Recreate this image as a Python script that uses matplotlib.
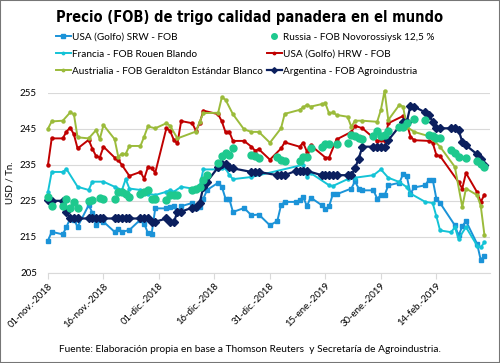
import numpy as np
import pandas as pd
import matplotlib
matplotlib.use('Agg')
import matplotlib.pyplot as plt
from matplotlib.lines import Line2D
from matplotlib.patches import Rectangle

# ---- data (USD / Tn) ----
srw_dates = ['2018-11-01','2018-11-02','2018-11-05','2018-11-06','2018-11-07','2018-11-08','2018-11-09',
             '2018-11-12','2018-11-13','2018-11-14','2018-11-15','2018-11-16','2018-11-19','2018-11-20',
             '2018-11-21','2018-11-23','2018-11-26','2018-11-27','2018-11-28','2018-11-29','2018-11-30',
             '2018-12-03','2018-12-04','2018-12-05','2018-12-06','2018-12-07','2018-12-10','2018-12-11',
             '2018-12-12','2018-12-13','2018-12-14','2018-12-17','2018-12-18','2018-12-19','2018-12-20',
             '2018-12-21','2018-12-24','2018-12-26','2018-12-28','2018-12-31','2019-01-02','2019-01-03',
             '2019-01-04','2019-01-07','2019-01-08','2019-01-09','2019-01-10','2019-01-11','2019-01-14',
             '2019-01-15','2019-01-16','2019-01-17','2019-01-18','2019-01-22','2019-01-23','2019-01-24',
             '2019-01-25','2019-01-28','2019-01-29','2019-01-30','2019-01-31','2019-02-01','2019-02-04',
             '2019-02-05','2019-02-06','2019-02-07','2019-02-08','2019-02-11','2019-02-12','2019-02-13',
             '2019-02-14','2019-02-15','2019-02-19','2019-02-20','2019-02-21','2019-02-22','2019-02-25',
             '2019-02-26','2019-02-27']
srw = [214.0, 216.4, 215.7, 217.8, 220.1, 219.8, 217.8,
       223.8, 221.7, 218.2, 219.6, 219.2, 216.4, 217.3,
       216.4, 216.9, 219.8, 218.7, 216.1, 215.7, 222.9,
       222.9, 223.3, 223.5, 221.9, 223.5, 224.4, 223.1,
       223.3, 225.6, 228.0, 230.0, 228.9, 225.6, 225.6,
       221.9, 223.0, 221.0, 221.2, 218.2, 219.4, 223.8,
       224.7, 224.7, 225.1, 226.1, 223.5, 225.9, 223.8,
       222.6, 223.5, 226.8, 226.8, 228.4, 230.4, 228.4,
       227.9, 227.9, 225.6, 226.5, 226.5, 229.3, 230.0,
       232.4, 231.8, 227.0, 228.7, 229.3, 230.9, 230.9,
       225.6, 224.4, 218.2, 215.4, 217.9, 219.4, 213.1,
       208.6, 209.8]

rus_dates = ['2018-11-01','2018-11-02','2018-11-05','2018-11-06','2018-11-07','2018-11-08','2018-11-09',
             '2018-11-12','2018-11-13','2018-11-15','2018-11-16','2018-11-19','2018-11-20','2018-11-21',
             '2018-11-22','2018-11-23','2018-11-26','2018-11-27','2018-11-28','2018-11-29','2018-11-30',
             '2018-12-03','2018-12-04','2018-12-05','2018-12-06','2018-12-10','2018-12-11','2018-12-12',
             '2018-12-13','2018-12-14','2018-12-17','2018-12-18','2018-12-19','2018-12-20','2018-12-21',
             '2018-12-26','2018-12-27','2018-12-28','2019-01-02','2019-01-03','2019-01-04','2019-01-08',
             '2019-01-09','2019-01-10','2019-01-11','2019-01-14','2019-01-15','2019-01-16','2019-01-18',
             '2019-01-21','2019-01-22','2019-01-23','2019-01-24','2019-01-25','2019-01-28','2019-01-29',
             '2019-01-30','2019-01-31','2019-02-01','2019-02-04','2019-02-05','2019-02-06','2019-02-08',
             '2019-02-11','2019-02-12','2019-02-13','2019-02-14','2019-02-15','2019-02-18','2019-02-19',
             '2019-02-20','2019-02-22','2019-02-25','2019-02-26','2019-02-27']
rus = [226.1, 223.5, 223.5, 225.6, 222.9, 224.7, 223.1,
       225.0, 225.2, 225.9, 225.6, 225.6, 227.5, 227.5,
       227.0, 226.1, 227.0, 227.5, 228.0, 225.6, 225.6,
       225.2, 226.6, 226.6, 226.6, 228.0, 228.2, 228.9,
       230.7, 232.1, 235.6, 237.4, 238.3, 237.7, 239.5,
       237.7, 237.5, 237.0, 237.2, 236.4, 236.0, 236.0,
       237.2, 237.2, 239.5, 240.0, 240.7, 240.7, 240.7,
       241.1, 243.2, 242.9, 242.3, 242.0, 242.9, 244.4,
       242.9, 243.2, 244.4, 245.4, 245.5, 246.7, 247.6,
       247.4, 243.2, 242.9, 242.3, 242.3, 239.1, 238.3,
       237.2, 237.0, 236.1, 235.2, 234.4]

fra_dates = ['2018-11-01','2018-11-02','2018-11-05','2018-11-06','2018-11-09','2018-11-12','2018-11-13',
             '2018-11-16','2018-11-19','2018-11-21','2018-11-22','2018-11-23','2018-11-26','2018-11-28',
             '2018-11-30','2018-12-03','2018-12-04','2018-12-05','2018-12-07','2018-12-10','2018-12-12',
             '2018-12-13','2018-12-17','2018-12-18','2018-12-19','2018-12-20','2018-12-21','2018-12-26',
             '2019-01-09','2019-01-10','2019-01-11','2019-01-16','2019-01-17','2019-01-21','2019-01-23',
             '2019-01-28','2019-01-30','2019-02-01','2019-02-04','2019-02-06','2019-02-07','2019-02-11',
             '2019-02-13','2019-02-14','2019-02-15','2019-02-18','2019-02-19','2019-02-20','2019-02-22',
             '2019-02-25','2019-02-26','2019-02-27']
fra = [227.5, 233.0, 233.0, 233.8, 228.9, 228.0, 230.3,
       230.3, 228.9, 228.0, 231.0, 228.4, 228.0, 227.0,
       226.6, 227.5, 228.0, 227.5, 228.9, 228.4, 229.1,
       233.7, 233.7, 234.0, 234.0, 232.2, 231.0, 231.6,
       235.0, 231.6, 232.7, 229.3, 229.1, 231.0, 231.4,
       232.1, 233.7, 231.4, 230.2, 228.8, 227.0, 224.7,
       224.4, 220.7, 216.8, 216.3, 217.7, 214.5, 217.7,
       212.6, 212.1, 213.5]

hrw_dates = ['2018-11-01','2018-11-02','2018-11-05','2018-11-06','2018-11-07','2018-11-08','2018-11-09',
             '2018-11-12','2018-11-13','2018-11-14','2018-11-15','2018-11-16','2018-11-19','2018-11-20',
             '2018-11-21','2018-11-23','2018-11-26','2018-11-27','2018-11-28','2018-11-29','2018-11-30',
             '2018-12-03','2018-12-04','2018-12-05','2018-12-06','2018-12-07','2018-12-10','2018-12-11',
             '2018-12-12','2018-12-13','2018-12-17','2018-12-18','2018-12-19','2018-12-20','2018-12-21',
             '2018-12-24','2018-12-26','2018-12-27','2018-12-28','2018-12-31','2019-01-03','2019-01-04',
             '2019-01-08','2019-01-09','2019-01-10','2019-01-11','2019-01-15','2019-01-16','2019-01-18',
             '2019-01-22','2019-01-23','2019-01-25','2019-01-29','2019-01-30','2019-01-31','2019-02-01',
             '2019-02-05','2019-02-06','2019-02-07','2019-02-08','2019-02-12','2019-02-13','2019-02-14',
             '2019-02-15','2019-02-20','2019-02-21','2019-02-22','2019-02-25','2019-02-26','2019-02-27']
hrw = [235.0, 242.3, 242.3, 244.2, 245.3, 243.4, 239.5,
       241.9, 239.4, 237.4, 237.0, 240.0, 237.0, 236.3,
       234.9, 231.9, 233.0, 231.1, 234.3, 234.1, 232.8,
       245.1, 244.4, 241.9, 240.9, 247.1, 246.5, 244.4,
       246.5, 250.0, 249.0, 247.0, 244.0, 244.2, 241.6,
       241.6, 240.0, 238.9, 239.3, 236.4, 239.5, 241.2,
       240.0, 241.1, 238.6, 240.4, 237.0, 237.0, 242.0,
       244.1, 245.8, 245.1, 241.6, 241.8, 241.5, 246.5,
       248.5, 246.5, 242.8, 241.8, 241.6, 241.1, 237.7,
       237.4, 230.2, 228.4, 232.7, 227.4, 224.7, 226.7]

aus_dates = ['2018-11-01','2018-11-02','2018-11-05','2018-11-07','2018-11-08','2018-11-09','2018-11-12',
             '2018-11-14','2018-11-15','2018-11-16','2018-11-19','2018-11-20','2018-11-21','2018-11-22',
             '2018-11-23','2018-11-26','2018-11-27','2018-11-28','2018-11-30','2018-12-03','2018-12-04',
             '2018-12-06','2018-12-11','2018-12-12','2018-12-13','2018-12-17','2018-12-18','2018-12-19',
             '2018-12-21','2018-12-24','2018-12-26','2018-12-28','2018-12-31','2019-01-03','2019-01-04',
             '2019-01-08','2019-01-09','2019-01-10','2019-01-11','2019-01-14','2019-01-15','2019-01-16',
             '2019-01-17','2019-01-18','2019-01-21','2019-01-22','2019-01-23','2019-01-25','2019-01-29',
             '2019-01-30','2019-01-31','2019-02-01','2019-02-04','2019-02-05','2019-02-06','2019-02-08',
             '2019-02-12','2019-02-13','2019-02-15','2019-02-19','2019-02-21','2019-02-22','2019-02-25',
             '2019-02-26','2019-02-27']
aus = [245.0, 247.0, 247.2, 249.5, 249.0, 242.6, 242.3,
       244.6, 242.1, 246.0, 242.1, 237.2, 238.1, 238.0,
       240.2, 240.2, 242.8, 245.6, 245.1, 246.5, 245.8,
       242.3, 244.2, 246.9, 249.3, 249.4, 253.7, 253.0,
       249.0, 244.8, 244.1, 244.1, 241.1, 245.1, 249.1,
       250.2, 250.9, 251.6, 251.1, 251.8, 252.0, 249.2,
       249.5, 248.8, 248.3, 245.5, 247.2, 247.2, 246.9,
       250.2, 255.5, 247.4, 251.6, 251.1, 245.5, 244.1,
       242.9, 242.0, 240.0, 234.4, 223.3, 228.4, 226.6,
       223.6, 215.5]

arg_dates = ['2018-11-01','2018-11-02','2018-11-05','2018-11-06','2018-11-07','2018-11-08','2018-11-09',
             '2018-11-12','2018-11-13','2018-11-14','2018-11-15','2018-11-16','2018-11-19','2018-11-20',
             '2018-11-21','2018-11-22','2018-11-23','2018-11-26','2018-11-27','2018-11-28','2018-11-29',
             '2018-11-30','2018-12-03','2018-12-04','2018-12-05','2018-12-06','2018-12-07','2018-12-10',
             '2018-12-11','2018-12-12','2018-12-13','2018-12-14','2018-12-17','2018-12-18','2018-12-19',
             '2018-12-20','2018-12-21','2018-12-26','2018-12-27','2018-12-28','2019-01-02','2019-01-03',
             '2019-01-04','2019-01-07','2019-01-08','2019-01-09','2019-01-10','2019-01-14','2019-01-15',
             '2019-01-16','2019-01-17','2019-01-18','2019-01-21','2019-01-22','2019-01-23','2019-01-24',
             '2019-01-25','2019-01-28','2019-01-29','2019-01-30','2019-01-31','2019-02-01','2019-02-05',
             '2019-02-06','2019-02-07','2019-02-08','2019-02-11','2019-02-12','2019-02-13','2019-02-14',
             '2019-02-15','2019-02-18','2019-02-19','2019-02-20','2019-02-21','2019-02-22','2019-02-25',
             '2019-02-26','2019-02-27']
arg = [225.2, 225.0, 225.0, 221.9, 220.1, 220.1, 220.1,
       220.1, 220.1, 220.1, 220.1, 220.1, 220.1, 220.1,
       220.1, 220.1, 220.1, 220.1, 220.1, 220.1, 219.2,
       219.2, 220.1, 219.0, 219.0, 222.0, 222.0, 223.1,
       223.3, 224.3, 228.9, 230.3, 234.3, 235.3, 235.1,
       234.4, 234.0, 233.0, 233.0, 233.0, 232.1, 232.1,
       232.1, 233.3, 233.3, 233.3, 233.3, 232.1, 232.1,
       232.1, 232.1, 232.1, 232.1, 232.1, 234.0, 236.7,
       240.0, 240.0, 240.0, 240.0, 240.0, 241.8, 246.9,
       246.9, 251.3, 251.1, 249.5, 248.8, 246.9, 245.1,
       245.1, 245.1, 245.1, 244.6, 241.4, 240.4, 237.9,
       236.5, 234.9]

tick_dates = ['2018-11-01','2018-11-16','2018-12-01','2018-12-16','2018-12-31',
              '2019-01-15','2019-01-30','2019-02-14']
tick_labels = ['01-nov.-2018','16-nov.-2018','01-dic.-2018','16-dic.-2018','31-dic.-2018',
               '15-ene.-2019','30-ene.-2019','14-feb.-2019']
y_ticks = [205, 215, 225, 235, 245, 255]

body_font = ['Lato', 'DejaVu Sans']

fig = plt.figure(figsize=(5.0, 3.63), dpi=100)
ax = fig.add_axes([0.096, 0.248, 0.884, 0.497])

c_srw = '#1b93d8'
c_rus = '#1ec98e'
c_fra = '#14c3d6'
c_hrw = '#c00000'
c_aus = '#9bbb3b'
c_arg = '#0b1f5e'

d = pd.to_datetime
l_srw, = ax.plot(d(srw_dates), srw, color=c_srw, lw=1.4, marker='s', ms=3.2, clip_on=False,
                 label='USA (Golfo) SRW - FOB')
l_fra, = ax.plot(d(fra_dates), fra, color=c_fra, lw=1.4, marker='o', ms=2.2, clip_on=False,
                 label='Francia - FOB Rouen Blando')
l_hrw, = ax.plot(d(hrw_dates), hrw, color=c_hrw, lw=1.4, marker='o', ms=2.2, clip_on=False,
                 label='USA (Golfo) HRW - FOB')
l_aus, = ax.plot(d(aus_dates), aus, color=c_aus, lw=1.4, marker='o', ms=2.2, clip_on=False,
                 label='Austrialia - FOB Geraldton Estándar Blanco')
l_arg, = ax.plot(d(arg_dates), arg, color=c_arg, lw=1.6, marker='D', ms=3.6, clip_on=False,
                 label='Argentina - FOB Agroindustria')
l_rus, = ax.plot(d(rus_dates), rus, ls='none', color=c_rus, marker='o', ms=5.0, clip_on=False,
                 label='Russia - FOB Novorossiysk 12,5 %')

ax.set_ylim(205, 255)
ax.set_yticks(y_ticks)
ax.set_xlim(d('2018-11-01'), d('2019-02-28') + pd.Timedelta(days=0.5))
ax.set_xticks(d(tick_dates))
ax.set_xticklabels(tick_labels, rotation=45, ha='right', rotation_mode='anchor',
                   fontsize=6.9, family=body_font)
for t in ax.get_yticklabels():
    t.set_fontsize(7)
    t.set_family(body_font)

ax.grid(axis='y', color='#d9d9d9', lw=0.8)
ax.set_axisbelow(True)
for s in ['top', 'right', 'left']:
    ax.spines[s].set_visible(False)
ax.spines['bottom'].set_color('#d9d9d9')
ax.tick_params(axis='y', length=0, pad=8)
ax.tick_params(axis='x', length=4, color='#d9d9d9', pad=2)
ax.set_ylabel('USD / Tn.', fontsize=7, family=body_font, labelpad=4)

fig.text(0.5, 0.952, 'Precio (FOB) de trigo calidad panadera en el mundo', ha='center', va='center',
         fontsize=10.5, fontweight='bold', fontstretch='condensed', family=['DejaVu Sans'])

handles = [l_srw, l_fra, l_aus, l_rus, l_hrw, l_arg]
leg = fig.legend(handles, [h.get_label() for h in handles], ncol=2, loc='upper left',
                 bbox_to_anchor=(0.111, 0.91), frameon=False, prop={'family': body_font, 'size': 7.2},
                 handlelength=1.5, handletextpad=0.1, columnspacing=0.45, labelspacing=0.8,
                 borderaxespad=0, borderpad=0, markerscale=0.8)

fig.text(0.5, 0.038, 'Fuente: Elaboración propia en base a Thomson Reuters  y Secretaría de Agroindustria.',
         ha='center', va='center', fontsize=7.3, family=body_font)

fig.patches.append(Rectangle((0, 0), 1, 1, transform=fig.transFigure, fill=False,
                             edgecolor='#767676', lw=1.5))

fig.savefig('out.png', dpi=100)
